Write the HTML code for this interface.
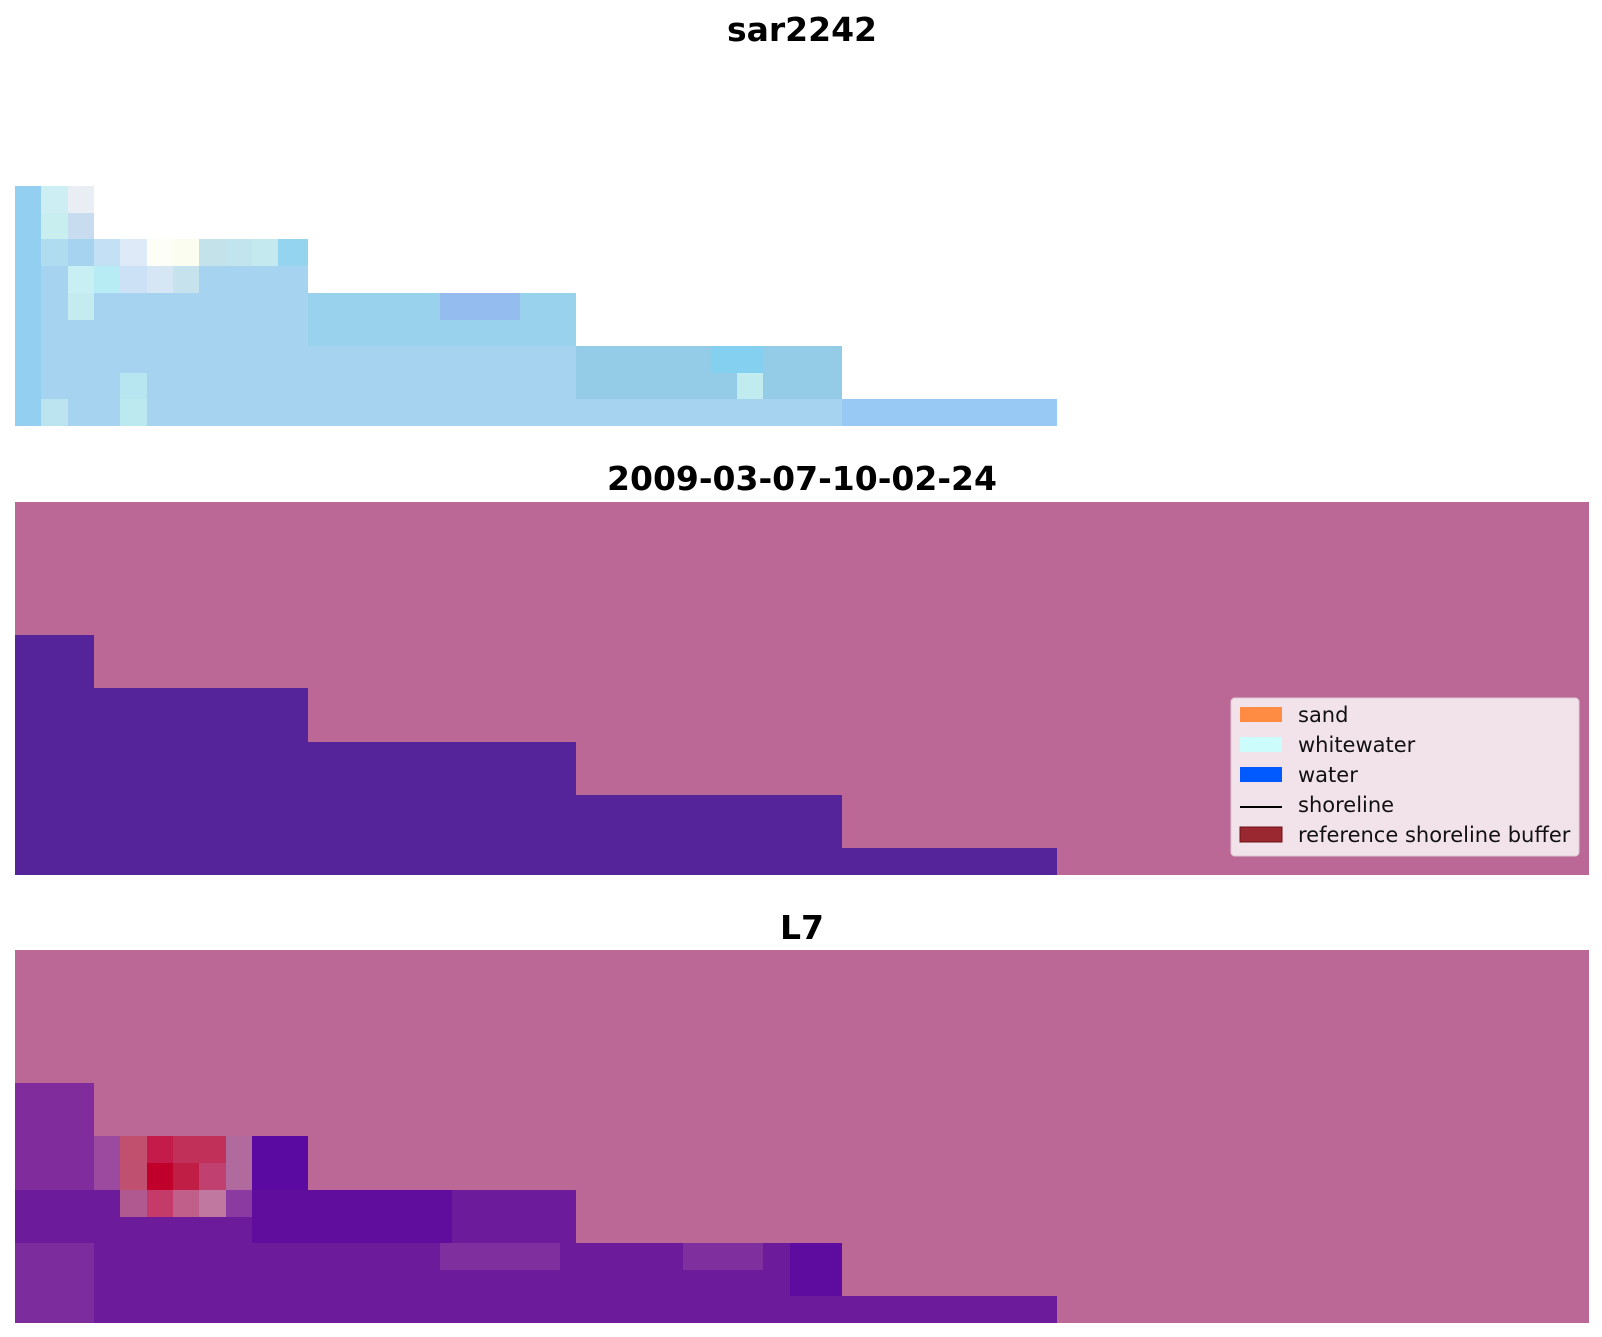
<!DOCTYPE html>
<html><head><meta charset="utf-8"><style>
body{margin:0;background:#fff;}
svg{display:block;}
text{font-family:"DejaVu Sans","Liberation Sans",sans-serif;}
</style></head><body>
<svg width="1602" height="1337" viewBox="0 0 1602 1337" shape-rendering="crispEdges">
<text x="802" y="41" font-size="33" font-weight="bold" text-anchor="middle">sar2242</text>
<text x="802" y="490" font-size="33" font-weight="bold" text-anchor="middle">2009-03-07-10-02-24</text>
<text x="802" y="939" font-size="33" font-weight="bold" text-anchor="middle">L7</text>

<!-- Panel 1 -->
<g transform="translate(0,53)">
<path d="M15,133 H94 V186 H308 V240 H576 V293 H842 V346 H1057 V373 H15 Z" fill="#a6d3ef"/>
<rect x="15" y="133" width="26" height="240" fill="#92cff0"/>
<rect x="41" y="133" width="27" height="27" fill="#cdeef2"/>
<rect x="68" y="133" width="26" height="27" fill="#e8eef4"/>
<rect x="41" y="160" width="27" height="26" fill="#c8eef0"/>
<rect x="68" y="160" width="26" height="26" fill="#c8dcf0"/>
<rect x="41" y="186" width="27" height="27" fill="#b0dcf0"/>
<rect x="94" y="186" width="26" height="27" fill="#c4e0f4"/>
<rect x="120" y="186" width="27" height="27" fill="#dfeaf8"/>
<rect x="147" y="186" width="26" height="27" fill="#fdfef6"/>
<rect x="173" y="186" width="26" height="27" fill="#fbfdf0"/>
<rect x="199" y="186" width="27" height="27" fill="#c4e2ea"/>
<rect x="226" y="186" width="26" height="27" fill="#c2e4ee"/>
<rect x="252" y="186" width="26" height="27" fill="#c4eaf0"/>
<rect x="278" y="186" width="30" height="27" fill="#94d4ee"/>
<rect x="68" y="213" width="26" height="27" fill="#c8f0f4"/>
<rect x="94" y="213" width="26" height="27" fill="#b8ecf4"/>
<rect x="120" y="213" width="27" height="27" fill="#cce0f6"/>
<rect x="147" y="213" width="26" height="27" fill="#d6e6f4"/>
<rect x="173" y="213" width="26" height="27" fill="#c6e2ec"/>
<rect x="68" y="240" width="26" height="27" fill="#c4ecf0"/>
<rect x="308" y="240" width="268" height="53" fill="#98d2ec"/>
<rect x="440" y="240" width="80" height="27" fill="#94bcee"/>
<rect x="576" y="293" width="266" height="53" fill="#94cce8"/>
<rect x="711" y="293" width="52" height="27" fill="#84d0f0"/>
<rect x="737" y="320" width="26" height="26" fill="#c0ecf0"/>
<rect x="842" y="346" width="215" height="27" fill="#98c8f4"/>
<rect x="120" y="320" width="27" height="26" fill="#b8e6f0"/>
<rect x="41" y="346" width="27" height="27" fill="#bce4f0"/>
<rect x="120" y="346" width="27" height="27" fill="#bce8f0"/>
</g>

<!-- Panel 2 -->
<g transform="translate(0,502)">
<rect x="15" y="0" width="1574" height="373" fill="#bc6896"/>
<path d="M15,133 H94 V186 H308 V240 H576 V293 H842 V346 H1057 V373 H15 Z" fill="#55239a"/>
</g>
<rect x="1231" y="698" width="348" height="158" rx="4" fill="#f2e2ea" stroke="#dccad4"/>
<rect x="1240" y="707" width="42" height="15" fill="#ff8c42"/>
<rect x="1240" y="737" width="42" height="15" fill="#ccfcfc"/>
<rect x="1240" y="767" width="42" height="15" fill="#005aff"/>
<rect x="1240" y="806" width="42" height="2" fill="#000"/>
<rect x="1240" y="827" width="42" height="15" fill="#9a2830" stroke="#701018"/>
<g font-size="21" fill="#111">
<text x="1298" y="722">sand</text>
<text x="1298" y="752">whitewater</text>
<text x="1298" y="782">water</text>
<text x="1298" y="812">shoreline</text>
<text x="1298" y="842">reference shoreline buffer</text>
</g>

<!-- Panel 3 -->
<g transform="translate(0,950)">
<rect x="15" y="0" width="1574" height="373" fill="#bc6896"/>
<path d="M15,133 H94 V186 H308 V240 H576 V293 H842 V346 H1057 V373 H15 Z" fill="#6c1c9a"/>
<rect x="15" y="133" width="79" height="107" fill="#802c9c"/>
<rect x="94" y="186" width="26" height="54" fill="#9c4aa0"/>
<rect x="120" y="186" width="27" height="27" fill="#c0506e"/>
<rect x="147" y="186" width="26" height="27" fill="#c41c4a"/>
<rect x="173" y="186" width="53" height="27" fill="#c03058"/>
<rect x="226" y="186" width="26" height="54" fill="#b06a9e"/>
<rect x="252" y="186" width="56" height="54" fill="#5a0aa0"/>
<rect x="120" y="213" width="27" height="27" fill="#c05070"/>
<rect x="147" y="213" width="26" height="27" fill="#c0002a"/>
<rect x="173" y="213" width="26" height="27" fill="#c01e44"/>
<rect x="199" y="213" width="27" height="27" fill="#c04070"/>
<rect x="120" y="240" width="27" height="27" fill="#b05890"/>
<rect x="147" y="240" width="26" height="27" fill="#c43a68"/>
<rect x="173" y="240" width="26" height="27" fill="#c0608a"/>
<rect x="199" y="240" width="27" height="27" fill="#c078a0"/>
<rect x="226" y="240" width="26" height="27" fill="#8a3aa0"/>
<rect x="252" y="240" width="200" height="53" fill="#600c9c"/>
<rect x="440" y="293" width="120" height="27" fill="#80309e"/>
<rect x="683" y="293" width="80" height="27" fill="#80309e"/>
<rect x="790" y="293" width="52" height="53" fill="#5e0ca0"/>
<rect x="15" y="293" width="79" height="80" fill="#7c2c9c"/>
</g>
</svg>
</body></html>
